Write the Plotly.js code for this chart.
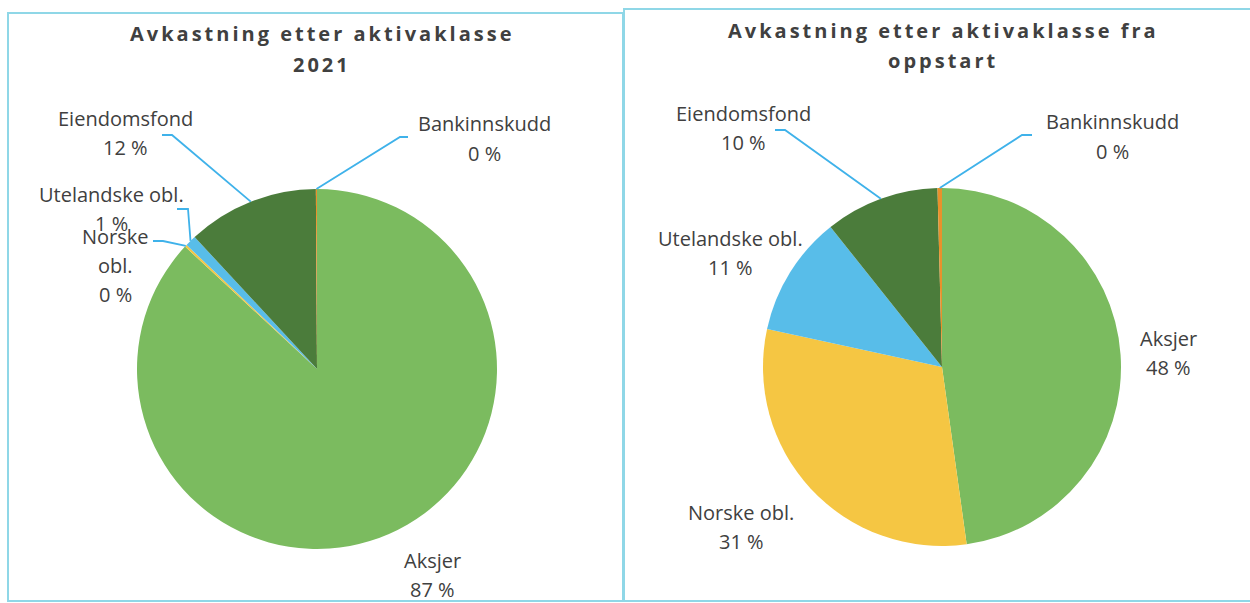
<!DOCTYPE html>
<html><head><meta charset="utf-8">
<script src="https://cdn.plot.ly/plotly-3.0.1.min.js"></script>
<style>body{margin:0;background:#fff}</style>
</head><body><div id="chart" style="width:1250px;height:603px"></div>
<script>
// ---- data ----
const categories = ['Aksjer', 'Norske obl.', 'Utelandske obl.', 'Eiendomsfond', 'Bankinnskudd'];
const values2021 = [86.9, 0.2, 1.0, 11.8, 0.1];
const valuesSinceStart = [47.8, 30.6, 10.9, 10.3, 0.4];
const titleLines2021 = ['Avkastning etter aktivaklasse', '2021'];
const titleLinesSinceStart = ['Avkastning etter aktivaklasse fra', 'oppstart'];
const sliceColors = ['#7bbb5f', '#f5c643', '#58bde9', '#4b7c3b', '#e8912b'];

// ---- layout / style ----
const W = 1250, H = 603;
const TEXT = '#404040', LEADER = '#3fb2ea', BORDER = '#8fd7e7';
const FONT = 'Open Sans, Liberation Sans, sans-serif';
const LINE_GAP = 29;
const pies = [
  { values: values2021, titleLines: titleLines2021, cx: 317, cy: 369, r: 180,
    box: [8, 13, 623, 601], titleX: 322, titleY: 34, titleGap: 31,
    labels: [
      { pos: [432, 560] },
      { pos: [115, 236], wrap: true, leader: [[153, 241], [163, 241]] },
      { pos: [111, 195], leader: [[177, 209], [188, 209]] },
      { pos: [125, 118], leader: [[162, 135], [172, 135]] },
      { pos: [484, 124], leader: [[408, 137], [400, 137]] }
    ] },
  { values: valuesSinceStart, titleLines: titleLinesSinceStart, cx: 942, cy: 367, r: 179,
    box: [624, 9, 1262, 601], titleX: 943, titleY: 31, titleGap: 30,
    labels: [
      { pos: [1168, 338] },
      { pos: [741, 512] },
      { pos: [730, 238] },
      { pos: [743, 113], leader: [[775, 130], [785, 130]] },
      { pos: [1112, 122], leader: [[1032, 135], [1022, 135]] }
    ] }
];

const px = x => x / W, py = y => 1 - y / H;
const traces = [], annotations = [], shapes = [];

pies.forEach(p => {
  const total = p.values.reduce((a, b) => a + b, 0);
  traces.push({
    type: 'pie', labels: categories, values: p.values, sort: false,
    direction: 'clockwise', rotation: 0, textinfo: 'none',
    marker: { colors: sliceColors, line: { width: 0 } },
    domain: { x: [px(p.cx - p.r), px(p.cx + p.r)], y: [py(p.cy + p.r), py(p.cy - p.r)] },
    showlegend: false, hoverinfo: 'label+percent'
  });
  shapes.push({ type: 'rect', xref: 'paper', yref: 'paper',
    x0: px(p.box[0]), x1: px(p.box[2]), y0: py(p.box[3]), y1: py(p.box[1]),
    line: { color: BORDER, width: 2 }, fillcolor: 'rgba(0,0,0,0)', layer: 'below' });
  p.titleLines.forEach((t, i) => annotations.push({
    xref: 'paper', yref: 'paper', x: px(p.titleX), y: py(p.titleY + i * p.titleGap),
    xanchor: 'center', yanchor: 'middle', showarrow: false,
    text: '<span style="letter-spacing:3px">' + t + '</span>',
    font: { family: FONT, size: 20, color: TEXT, weight: 700 }
  }));
  let cum = 0;
  p.values.forEach((v, i) => {
    const mid = (cum + v / 2) / total; cum += v;
    const th = 2 * Math.PI * mid;
    const ex = p.cx + p.r * Math.sin(th), ey = p.cy - p.r * Math.cos(th);
    const L = p.labels[i];
    const lines = (L.wrap ? categories[i].split(' ') : [categories[i]]).concat([Math.round(v / total * 100) + ' %']);
    lines.forEach((t, k) => annotations.push({
      xref: 'paper', yref: 'paper', x: px(L.pos[0]), y: py(L.pos[1] + k * LINE_GAP),
      xanchor: 'center', yanchor: 'middle', showarrow: false, text: t,
      font: { family: FONT, size: 20, color: TEXT }
    }));
    if (L.leader) {
      const pts = L.leader.concat([[ex, ey]]);
      shapes.push({ type: 'path', xref: 'paper', yref: 'paper',
        path: pts.map((q, j) => (j ? 'L' : 'M') + px(q[0]) + ',' + py(q[1])).join(' '),
        line: { color: LEADER, width: 1.8 } });
    }
  });
});

Plotly.newPlot('chart', traces, {
  width: W, height: H, margin: { l: 0, r: 0, t: 0, b: 0 },
  paper_bgcolor: '#fff', annotations, shapes, showlegend: false
}, { displayModeBar: false, staticPlot: true });
</script></body></html>
